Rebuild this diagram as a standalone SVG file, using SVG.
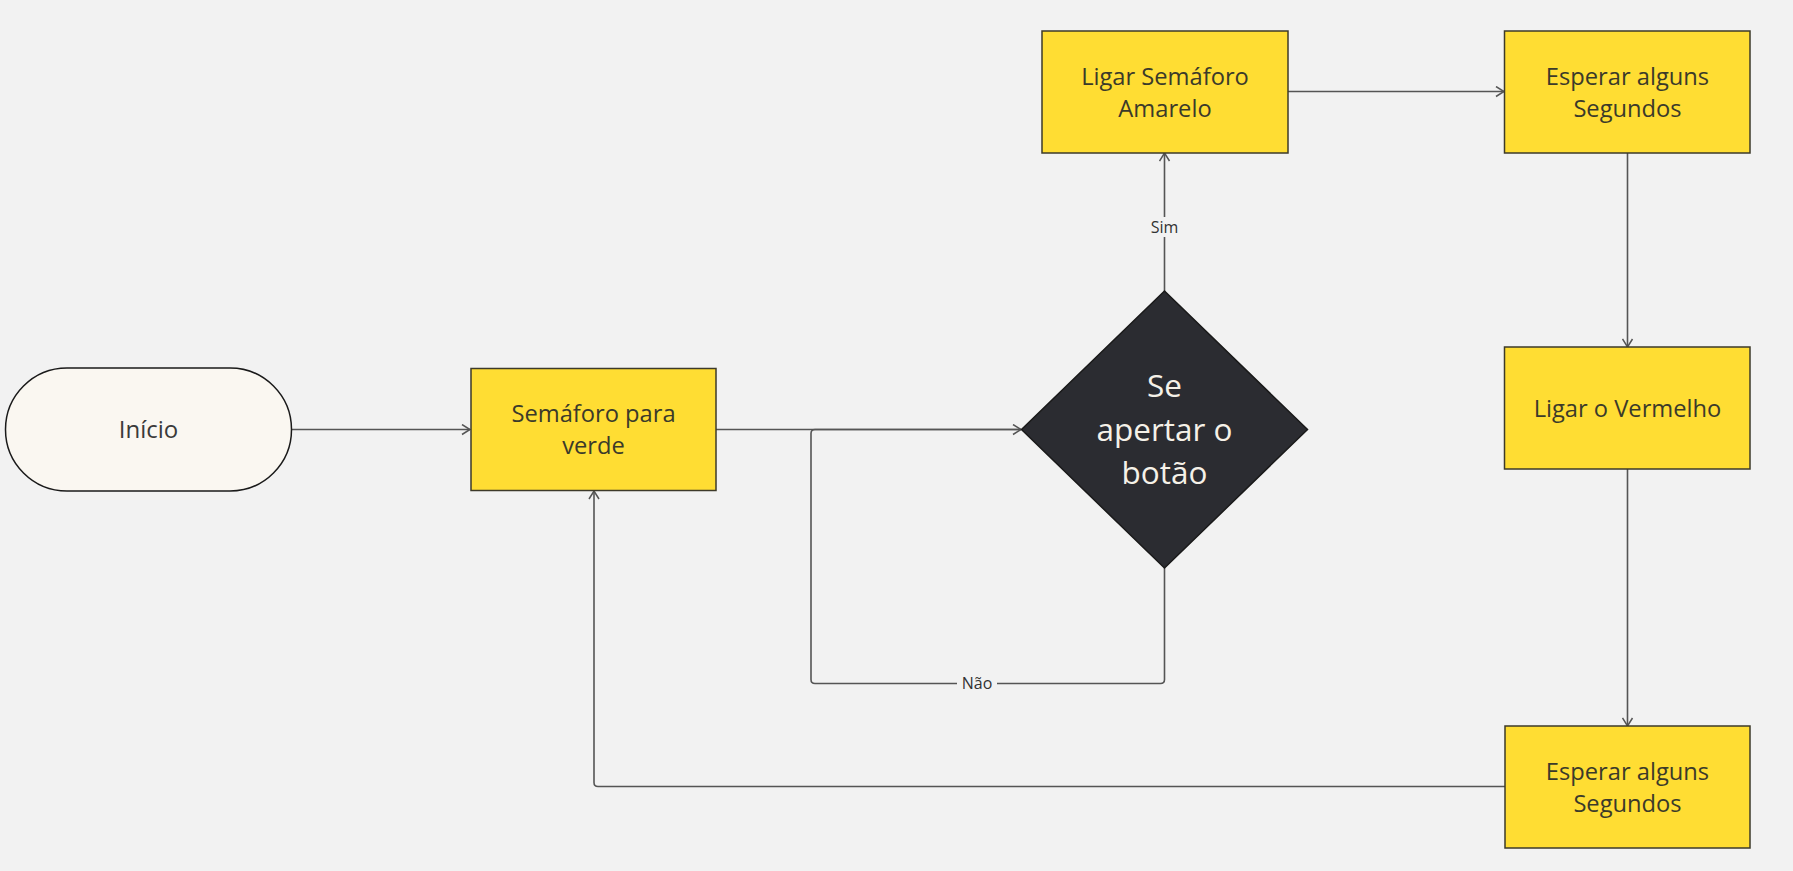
<svg xmlns="http://www.w3.org/2000/svg" width="1793" height="871" viewBox="0 0 1793 871">
<defs>
<style>
.box{fill:#ffdd33;stroke:#3d3a2a;stroke-width:1.5}
.t{font-family:"Open Sans","Liberation Sans",sans-serif;font-size:23.7px;fill:#3b3a2a;text-anchor:middle}
.d{font-family:"Open Sans","Liberation Sans",sans-serif;font-size:31.5px;fill:#f5f1e8;text-anchor:middle}
.c{fill:none;stroke:#555555;stroke-width:1.6}
.lbl{font-family:"Open Sans","Liberation Sans",sans-serif;font-size:16px;fill:#333333;text-anchor:middle}
</style>
<marker id="arr" viewBox="0 0 10 12" refX="9" refY="6" markerWidth="10" markerHeight="12" markerUnits="userSpaceOnUse" orient="auto">
<path d="M1,1 L9,6 L1,11" fill="none" stroke="#555555" stroke-width="1.5"/>
</marker>
</defs>
<rect width="1793" height="871" fill="#f2f2f2"/>
<g id="connectors">
<path class="c" d="M292,429.5 H470" marker-end="url(#arr)"/>
<path class="c" d="M716,429.5 H1021" marker-end="url(#arr)"/>
<path class="c" d="M1164.5,568 V679.5 Q1164.5,683.5 1160.5,683.5 H997 M957,683.5 H815 Q811,683.5 811,679.5 V433.5 Q811,429.5 815,429.5 H1021"/>
<path class="c" d="M1164.5,291 V237 M1164.5,217 V153" marker-end="url(#arr)"/>
<path class="c" d="M1288,91.5 H1504" marker-end="url(#arr)"/>
<path class="c" d="M1627.5,153 V347" marker-end="url(#arr)"/>
<path class="c" d="M1627.5,469 V726" marker-end="url(#arr)"/>
<path class="c" d="M1505,786.5 H598 Q594,786.5 594,782.5 V491" marker-end="url(#arr)"/>
<text class="lbl" x="1164.5" y="233">Sim</text>
<text class="lbl" x="977" y="689">Não</text>
</g>
<g id="inicio">
<rect x="5.5" y="368" width="286" height="123" rx="61.5" fill="#faf7f1" stroke="#1a1a1a" stroke-width="1.5"/>
<text class="t" x="148.5" y="438" style="font-size:24px;fill:#3a3a3a">Início</text>
</g>
<g id="semaforo-verde">
<rect class="box" x="471" y="368.5" width="245" height="122"/>
<text class="t" x="593.5" y="422">Semáforo para</text>
<text class="t" x="593.5" y="454">verde</text>
</g>
<g id="decisao">
<polygon points="1164.5,291 1307.5,429.5 1164.5,568 1021.5,429.5" fill="#2b2c31" stroke="#1a1a1a" stroke-width="1.5"/>
<text class="d" x="1164.5" y="397">Se</text>
<text class="d" x="1164.5" y="441">apertar o</text>
<text class="d" x="1164.5" y="484">botão</text>
</g>
<g id="ligar-amarelo">
<rect class="box" x="1042" y="31" width="246" height="122"/>
<text class="t" x="1165" y="85">Ligar Semáforo</text>
<text class="t" x="1165" y="117">Amarelo</text>
</g>
<g id="esperar-1">
<rect class="box" x="1504.5" y="31" width="245.5" height="122"/>
<text class="t" x="1627.5" y="85">Esperar alguns</text>
<text class="t" x="1627.5" y="117">Segundos</text>
</g>
<g id="ligar-vermelho">
<rect class="box" x="1504.5" y="347" width="245.5" height="122"/>
<text class="t" x="1627.5" y="417">Ligar o Vermelho</text>
</g>
<g id="esperar-2">
<rect class="box" x="1505" y="726" width="245" height="122"/>
<text class="t" x="1627.5" y="780">Esperar alguns</text>
<text class="t" x="1627.5" y="812">Segundos</text>
</g>
</svg>
